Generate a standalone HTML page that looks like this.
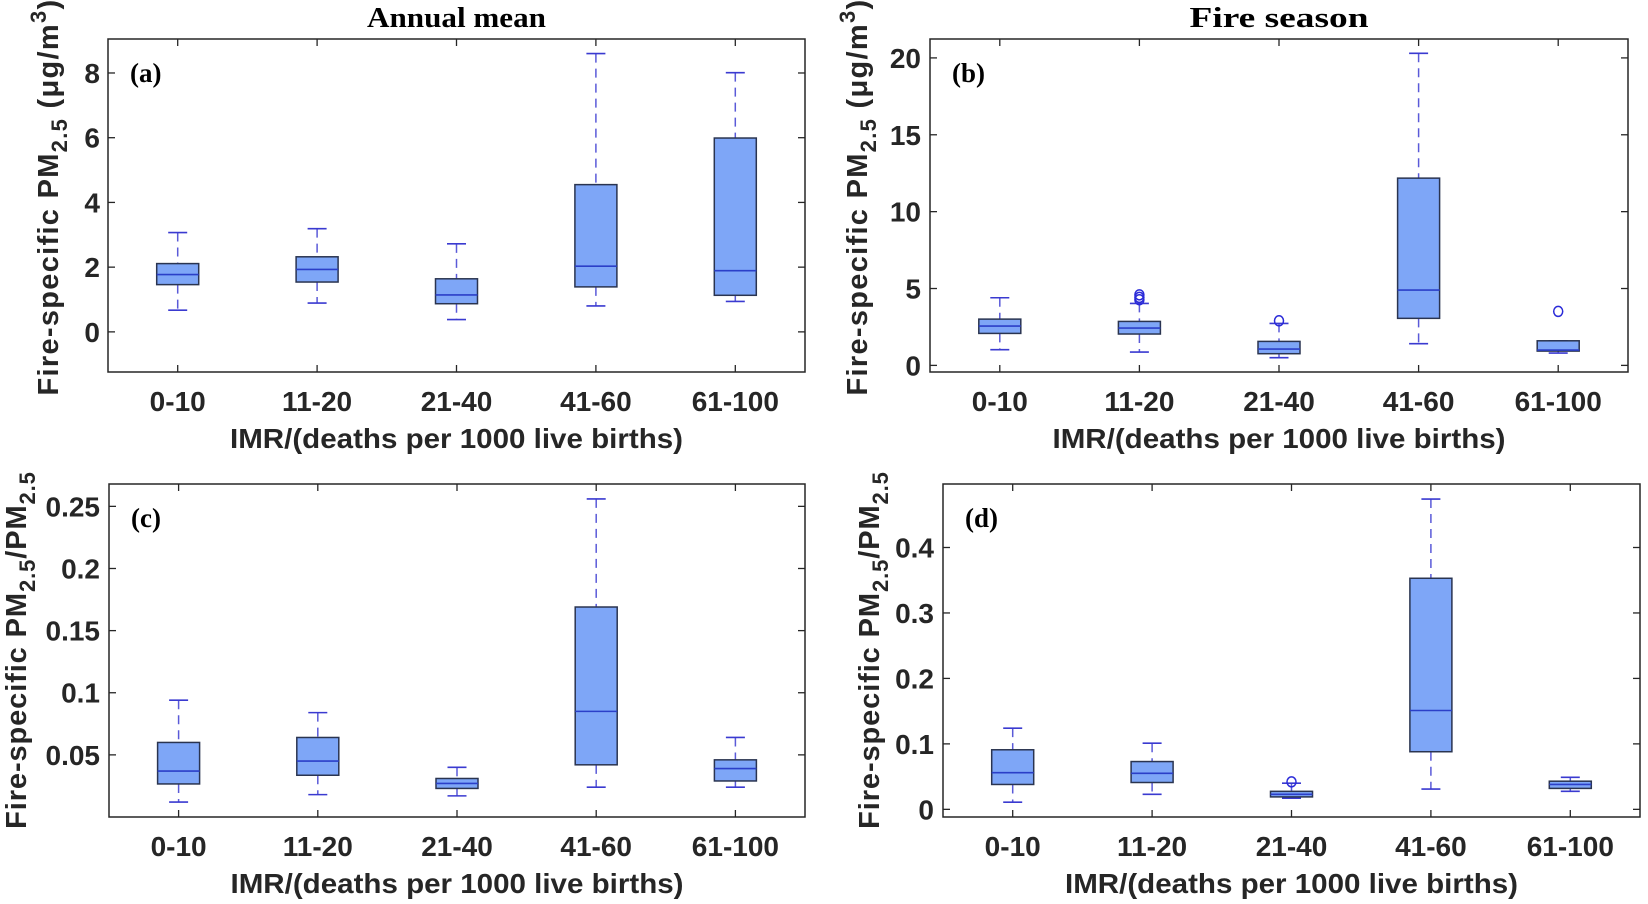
<!DOCTYPE html>
<html><head><meta charset="utf-8">
<style>
html,body{margin:0;padding:0;background:#fff;}
svg{display:block;font-family:"Liberation Sans",Arial,sans-serif;}
</style></head>
<body>
<svg id="fig" width="1648" height="904" viewBox="0 0 1648 904" xmlns="http://www.w3.org/2000/svg"></svg>
<script>
const categories = ["0-10","11-20","21-40","41-60","61-100"];

// Panel (a) annual mean PM2.5
const aHigh = [3.07, 3.19, 2.72, 8.6, 8.01];
const aQ3   = [2.11, 2.32, 1.64, 4.55, 5.99];
const aMed  = [1.77, 1.93, 1.14, 2.03, 1.89];
const aQ1   = [1.46, 1.54, 0.87, 1.39, 1.13];
const aLow  = [0.67, 0.89, 0.38, 0.80, 0.94];
const aOut  = [[],[],[],[],[]];
const aTicks = [0, 2, 4, 6, 8];

// Panel (b) fire season PM2.5
const bHigh = [4.40, 4.03, 2.73, 20.3, 1.60];
const bQ3   = [3.01, 2.86, 1.56, 12.18, 1.60];
const bMed  = [2.56, 2.43, 1.06, 4.90, 1.00];
const bQ1   = [2.08, 2.04, 0.76, 3.06, 0.93];
const bLow  = [1.02, 0.87, 0.50, 1.41, 0.80];
const bOut  = [[],[4.59,4.42,4.27],[2.90],[],[3.51]];
const bTicks = [0, 5, 10, 15, 20];

// Panel (c) annual ratio
const cHigh = [0.094, 0.084, 0.040, 0.256, 0.064];
const cQ3   = [0.060, 0.064, 0.031, 0.169, 0.046];
const cMed  = [0.037, 0.045, 0.027, 0.085, 0.039];
const cQ1   = [0.0266, 0.0336, 0.023, 0.042, 0.029];
const cLow  = [0.012, 0.018, 0.017, 0.024, 0.024];
const cOut  = [[],[],[],[],[]];
const cTicks = [0.05, 0.1, 0.15, 0.2, 0.25];
const cTickLabels = ["0.05","0.1","0.15","0.2","0.25"];

// Panel (d) fire season ratio
const dHigh = [0.124, 0.101, 0.040, 0.474, 0.049];
const dQ3   = [0.091, 0.073, 0.0275, 0.353, 0.043];
const dMed  = [0.056, 0.055, 0.023, 0.151, 0.038];
const dQ1   = [0.038, 0.041, 0.019, 0.088, 0.032];
const dLow  = [0.011, 0.023, 0.017, 0.031, 0.0275];
const dOut  = [[],[],[0.042],[],[]];
const dTicks = [0, 0.1, 0.2, 0.3, 0.4];
const dTickLabels = ["0","0.1","0.2","0.3","0.4"];

const NS = "http://www.w3.org/2000/svg";
const svg = document.getElementById("fig");
function mk(tag, attrs, parent){
  const e = document.createElementNS(NS, tag);
  for (const k in attrs) e.setAttribute(k, attrs[k]);
  (parent||svg).appendChild(e);
  return e;
}

function panel(p){
  const g = mk("g", {});
  
  
  const L=p.L, R=p.R, T=p.T, B=p.B;
  const y = v => B - (v - p.ymin) / (p.ymax - p.ymin) * (B - T);
  const step = (R - L) / categories.length;
  const x = i => L + step * (i + 0.5);

  const frame = mk("rect", {x:L, y:T, width:R-L, height:B-T, fill:"none", stroke:"#262626", "stroke-width":1.5}, g);
  
  

  p.ticks.forEach((t, k) => {
    const yy = y(t);
    mk("line", {x1:L, x2:L+7, y1:yy, y2:yy, stroke:"#262626", "stroke-width":1.3}, g);
    mk("line", {x1:R, x2:R-7, y1:yy, y2:yy, stroke:"#262626", "stroke-width":1.3}, g);
    const tl = mk("text", {x:p.tickX, y:yy+10, "text-anchor":"end", "font-size":28, "font-weight":"bold", fill:"#262626"}, g);
    tl.textContent = p.tickLabels ? p.tickLabels[k] : String(t);
    
    
  });

  categories.forEach((c, i) => {
    const xx = x(i);
    mk("line", {x1:xx, x2:xx, y1:B, y2:B-7, stroke:"#262626", "stroke-width":1.3}, g);
    mk("line", {x1:xx, x2:xx, y1:T, y2:T+7, stroke:"#262626", "stroke-width":1.3}, g);
    const tl = mk("text", {x:xx, y:B+39, "text-anchor":"middle", "font-size":28, "font-weight":"bold", fill:"#262626"}, g);
    tl.textContent = c;
    
    
  });

  const bw = 42, cw = 19;
  categories.forEach((c, i) => {
    const xx = x(i);
    const bg = mk("g", {}, g);
    
    
    mk("line", {x1:xx, x2:xx, y1:y(p.high[i]), y2:y(p.q3[i]), stroke:"#5a5ad8", "stroke-width":1.5, "stroke-dasharray":"9,6"}, bg);
    mk("line", {x1:xx, x2:xx, y1:y(p.q1[i]), y2:y(p.low[i]), stroke:"#5a5ad8", "stroke-width":1.5, "stroke-dasharray":"9,6"}, bg);
    mk("line", {x1:xx-cw/2, x2:xx+cw/2, y1:y(p.high[i]), y2:y(p.high[i]), stroke:"#3a3ad0", "stroke-width":1.6}, bg);
    mk("line", {x1:xx-cw/2, x2:xx+cw/2, y1:y(p.low[i]), y2:y(p.low[i]), stroke:"#3a3ad0", "stroke-width":1.6}, bg);
    mk("rect", {x:xx-bw/2, y:y(p.q3[i]), width:bw, height:Math.max(1, y(p.q1[i])-y(p.q3[i])), fill:"#7ea6f7", stroke:"#2a3450", "stroke-width":1.5}, bg);
    mk("line", {x1:xx-bw/2, x2:xx+bw/2, y1:y(p.med[i]), y2:y(p.med[i]), stroke:"#2b3fc8", "stroke-width":1.6}, bg);
    p.out[i].forEach(v => {
      const o = mk("ellipse", {cx:xx, cy:y(v), rx:4.5, ry:5, fill:"none", stroke:"#2a2ad8", "stroke-width":1.5}, bg);
      
      
    });
  });

  const lt = mk("text", {x:L+22, y:T+43, "font-family":"'Liberation Serif',serif", "font-size":27, "font-weight":"bold", fill:"#000"}, g);
  lt.textContent = "(" + p.id + ")";
  
  

  const xl = mk("text", {x:(L+R)/2, y:B+76, "text-anchor":"middle", "font-size":28, "font-weight":"bold", fill:"#262626", textLength:453, lengthAdjust:"spacingAndGlyphs"}, g);
  xl.textContent = "IMR/(deaths per 1000 live births)";
  
  

  const yl = mk("text", {x:0, y:0, "text-anchor":"middle", "font-size":29, "font-weight":"bold", fill:"#262626", "letter-spacing":p.ls, transform:"translate(" + p.ylX + "," + p.ylY + ") rotate(-90)"}, g);
  
  
  if (p.ratio) {
    yl.innerHTML = 'Fire-specific PM<tspan font-size="22" dy="9">2.5</tspan><tspan dy="-9">/PM</tspan><tspan font-size="22" dy="9">2.5</tspan>';
  } else {
    yl.innerHTML = 'Fire-specific PM<tspan font-size="22" dy="9">2.5</tspan><tspan dy="-9"> (μg/m</tspan><tspan font-size="22" dy="-12">3</tspan><tspan dy="12">)</tspan>';
  }

  if (p.title) {
    const tt = mk("text", {x:(L+R)/2, y:27, "text-anchor":"middle", "font-family":"'Liberation Serif',serif", "font-size":28, "font-weight":"bold", fill:"#000", textLength:179, lengthAdjust:"spacingAndGlyphs"}, g);
    tt.textContent = p.title;
    
    
  }
}

panel({id:"a", L:108, R:805, T:39, B:372, ymin:-1.24, ymax:9.05, ticks:aTicks, tickX:100,
  high:aHigh, q3:aQ3, med:aMed, q1:aQ1, low:aLow, out:aOut, ylX:58, ylY:197, ls:1.3, title:"Annual mean"});
panel({id:"b", L:930, R:1628, T:39, B:372, ymin:-0.43, ymax:21.23, ticks:bTicks, tickX:921,
  high:bHigh, q3:bQ3, med:bMed, q1:bQ1, low:bLow, out:bOut, ylX:867, ylY:197, ls:1.3, title:"Fire season"});
panel({id:"c", L:109, R:805, T:484, B:817, ymin:0, ymax:0.268, ticks:cTicks, tickLabels:cTickLabels, tickX:100,
  high:cHigh, q3:cQ3, med:cMed, q1:cQ1, low:cLow, out:cOut, ylX:26, ylY:650, ls:0.9, ratio:true});
panel({id:"d", L:943, R:1640, T:484, B:817, ymin:-0.0117, ymax:0.497, ticks:dTicks, tickLabels:dTickLabels, tickX:934,
  high:dHigh, q3:dQ3, med:dMed, q1:dQ1, low:dLow, out:dOut, ylX:879, ylY:650, ls:0.9, ratio:true});
</script>
</body></html>
